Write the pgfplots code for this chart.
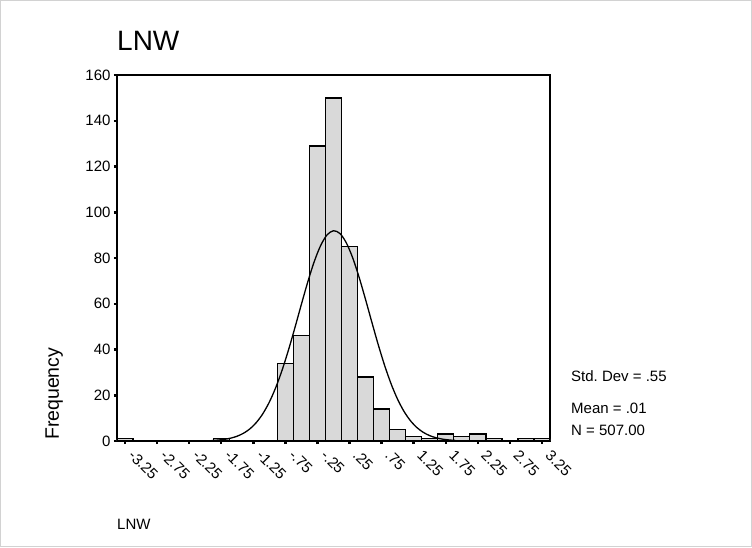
\documentclass[border=0pt]{standalone}
\usepackage{pgfplots}
\pgfplotsset{compat=1.18}
\usepackage{fontspec}
\setmainfont{Liberation Sans}
\definecolor{barfill}{RGB}{217,217,217}
\begin{document}
\begin{tikzpicture}[x=1pt,y=1pt]
\useasboundingbox (-117,-106) rectangle (635,441);
\draw[gray!35, line width=0.8pt] (-116.6,-105.6) rectangle (634.6,440.6);
\begin{axis}[
  width=433pt, height=366pt, scale only axis,
  xmin=-3.375, xmax=3.375, ymin=0, ymax=160,
  axis line style={line width=2pt},
  xtick={-3.25,-2.75,-2.25,-1.75,-1.25,-0.75,-0.25,0.25,0.75,1.25,1.75,2.25,2.75,3.25},
  xticklabels={-3.25,-2.75,-2.25,-1.75,-1.25,-.75,-.25,.25,.75,1.25,1.75,2.25,2.75,3.25},
  ytick={0,20,40,60,80,100,120,140,160},
  tick align=outside, tick pos=left,
  major tick length=3pt,
  every tick/.style={black, line width=2.5pt},
  xticklabel style={xshift=10pt, yshift=-2pt, rotate=-45, anchor=north west, font=\fontsize{15}{15}\selectfont, inner sep=2pt},
  yticklabel style={font=\fontsize{15}{15}\selectfont},
  /pgf/number format/assume math mode=true,
]
\addplot[ybar, bar width=0.25, fill=barfill, draw=black, line width=1.3pt] coordinates {
  (-3.25,1) (-1.75,1) (-0.75,34) (-0.5,46) (-0.25,129) (0,150) (0.25,85)
  (0.5,28) (0.75,14) (1.0,5) (1.25,2) (1.5,1) (1.75,3) (2.0,2) (2.25,3)
  (2.5,1) (3.0,1) (3.25,1)
};
\addplot[smooth, black, line width=1.3pt, no marks] coordinates {
  (-1.9,0.221) (-1.8,0.409) (-1.7,0.732) (-1.6,1.267) (-1.5,2.121) (-1.4,3.439)
  (-1.3,5.392) (-1.2,8.176) (-1.1,11.996) (-1.0,17.028) (-0.9,23.39) (-0.8,31.08)
  (-0.7,39.96) (-0.6,49.70) (-0.5,59.81) (-0.4,69.64) (-0.3,78.44) (-0.2,85.48)
  (-0.1,90.12) (0.0,91.92) (0.1,90.72) (0.2,86.62) (0.3,80.01) (0.4,71.50)
  (0.5,61.82) (0.6,51.72) (0.7,41.86) (0.8,32.77) (0.9,24.83) (1.0,18.19)
  (1.1,12.90) (1.2,8.852) (1.3,5.876) (1.4,3.773) (1.5,2.343) (1.6,1.408)
  (1.7,0.819) (1.8,0.461) (1.9,0.251)
};
\end{axis}
\node[anchor=base west, inner sep=0, font=\fontsize{28}{28}\selectfont] at (0,390) {LNW};
\node[anchor=base west, inner sep=0, font=\fontsize{15}{15}\selectfont] at (0,-88) {LNW};
\node[rotate=90, anchor=base west, inner sep=0, font=\fontsize{19.5}{19.5}\selectfont] at (-58,1) {Frequency};
\node[anchor=base west, inner sep=0, font=\fontsize{15}{15}\selectfont] at (454,59.5) {Std.\ Dev = .55};
\node[anchor=base west, inner sep=0, font=\fontsize{15}{15}\selectfont] at (454,28) {Mean = .01};
\node[anchor=base west, inner sep=0, font=\fontsize{15}{15}\selectfont] at (454,6) {N = 507.00};
\end{tikzpicture}
\end{document}
